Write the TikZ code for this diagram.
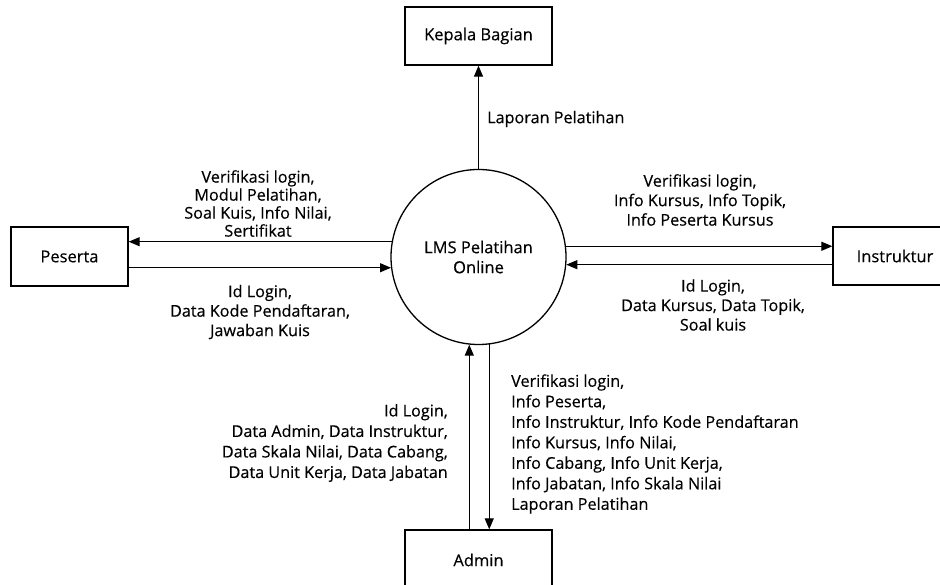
\documentclass[tikz,border=0pt]{standalone}
\usepackage{fontspec}
\setmainfont{Open Sans}[FakeBold=0.35]
\usetikzlibrary{arrows.meta}
\begin{document}
\begin{tikzpicture}[x=1pt,y=-1pt,
  ent/.style={draw,line width=1.3pt,inner sep=0pt,minimum width=147pt,minimum height=58pt,font=\fontsize{16.5}{19}\selectfont},
  proc/.style={draw,line width=1.3pt,circle,inner sep=0pt,minimum size=175pt,align=center,font=\fontsize{16.5}{20}\selectfont},
  flow/.style={line width=1.2pt,-{Triangle[length=11pt,width=9pt]}},
  lbl/.style={inner sep=0pt,font=\fontsize{16.2}{19.5}\selectfont},
  lblS/.style={inner sep=0pt,font=\fontsize{16.2}{18}\selectfont},
  lblA/.style={inner sep=0pt,font=\fontsize{16.2}{20.5}\selectfont}]
\useasboundingbox (0,0) rectangle (940,585);
\begin{scope}
\clip (0,0) rectangle (940,585);
\node[proc] (lms) at (478.5,257) {LMS Pelatihan\\Online};
\node[ent] (kep) at (478.5,36) {Kepala Bagian};
\node[ent,minimum width=117pt,minimum height=59pt] (pes) at (69.5,256.5) {Peserta};
\node[ent,minimum width=124pt] (ins) at (895,256) {Instruktur};
\node[ent,minimum height=60pt] (adm) at (478.5,560) {Admin};

\draw[flow] (lms.north) -- (kep.south);
\draw[flow] (lms.170.8) -- (pes.east |- lms.170.8);
\draw[flow] (pes.east |- lms.187.2) -- (lms.187.2);
\draw[flow] (lms.7.2) -- (ins.west |- lms.7.2);
\draw[flow] (ins.west |- lms.-5.2) -- (lms.-5.2);
\draw[flow] (adm.north -| lms.-96.9) -- (lms.-96.9);
\draw[flow] (lms.-83.1) -- (adm.north -| lms.-83.1);
\end{scope}

\node[lbl,anchor=west] (l1) at (487,119) {Laporan Pelatihan};
\node[lblS,align=center] (l2) at (258,203.5) {Verifikasi login,\\Modul Pelatihan,\\Soal Kuis, Info Nilai,\\Sertifikat};
\node[lbl,align=center] (l3) at (260,312) {Id Login,\\Data Kode Pendaftaran,\\Jawaban Kuis};
\node[lbl,align=center] (l4) at (700,200) {Verifikasi login,\\Info Kursus, Info Topik,\\Info Peserta Kursus};
\node[lbl,align=center] (l5) at (713,305) {Id Login,\\Data Kursus, Data Topik,\\Soal kuis};
\node[lblA,align=right,anchor=east] (l6) at (448,443) {Id Login,\\Data Admin, Data Instruktur,\\Data Skala Nilai, Data Cabang,\\Data Unit Kerja, Data Jabatan};
\node[lblA,align=left,anchor=west] (l7) at (511,444) {Verifikasi login,\\Info Peserta,\\Info Instruktur, Info Kode Pendaftaran\\Info Kursus, Info Nilai,\\Info Cabang, Info Unit Kerja,\\Info Jabatan, Info Skala Nilai\\Laporan Pelatihan};
\end{tikzpicture}
\end{document}
